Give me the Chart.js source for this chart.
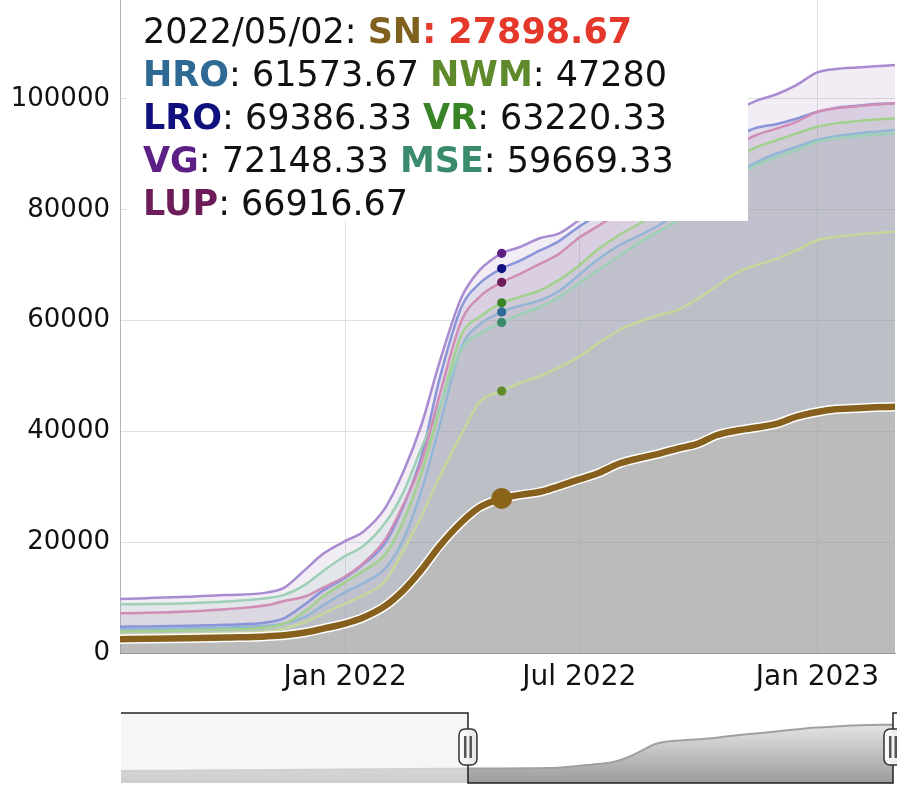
<!DOCTYPE html>
<html>
<head>
<meta charset="utf-8">
<script src="https://cdn.jsdelivr.net/npm/chart.js@4.4.0/dist/chart.umd.min.js"></script>
<style>
  html, body { margin: 0; padding: 0; background: #fff; }
  #wrap { position: relative; width: 897px; height: 789px; overflow: hidden; }
  #main { position: absolute; left: 0; top: 0; }
  #range { position: absolute; left: 0; top: 705px; }
  #legend { position: absolute; left: 127px; top: 0; width: 605px; height: 211px; padding: 10px 0 0 16px;
            background: #fff; font: 35px 'DejaVu Sans', sans-serif; line-height: 43px; color: #111; }
  #legend .it { white-space: nowrap; }
</style>
</head>
<body>
<div id="wrap">
  <canvas id="main" width="897" height="705"></canvas>
  <canvas id="range" width="897" height="84"></canvas>
  <div id="legend"></div>
</div>
<script>
// dates of the visible window
var dates = ['2021-07-11','2021-08-01','2021-09-01','2021-10-01','2021-11-01','2021-11-15','2021-12-01','2021-12-15',
             '2022-01-01','2022-01-15','2022-02-01','2022-02-15','2022-03-01','2022-03-15','2022-04-01','2022-04-15',
             '2022-05-02','2022-05-15','2022-06-01','2022-06-15','2022-07-01','2022-07-15','2022-08-01','2022-08-15',
             '2022-09-01','2022-09-15','2022-10-01','2022-10-15','2022-11-01','2022-11-15','2022-12-01','2022-12-15',
             '2023-01-01','2023-01-15','2023-02-01','2023-02-15','2023-03-02'];

var sn  = [2500, 2550, 2650, 2800, 3000, 3200, 3700, 4400, 5300, 6400, 8500, 11300, 15000, 19300, 23600, 26300,
           27898.67, 28500, 29100, 30100, 31350, 32400, 34200, 35100, 36000, 36900, 37800, 39300, 40200, 40700,
           41400, 42600, 43500, 44000, 44200, 44350, 44460];
var hro = [4300, 4350, 4450, 4600, 4900, 5300, 6500, 8600, 11000, 12600, 15300, 20500, 29300, 41000, 55300, 59300,
           61573.67, 62600, 63700, 65300, 68300, 71000, 73600, 75200, 77300, 79400, 81900, 84000, 86700, 88600,
           90200, 91300, 92600, 93300, 93800, 94100, 94400];
var nwm = [3300, 3350, 3450, 3600, 3900, 4400, 5600, 7100, 8900, 10400, 13000, 18500, 24700, 31800, 39500, 45300,
           47280, 48600, 50000, 51500, 53500, 55800, 58300, 59700, 61000, 61900, 64000, 66200, 68800, 70000,
           71200, 72600, 74500, 75100, 75500, 75800, 76050];
var lro = [4750, 4800, 4900, 5100, 5500, 6300, 8800, 11300, 13600, 16000, 19900, 26500, 35500, 49500, 62500, 66700,
           69386.33, 70700, 72700, 74300, 77000, 79000, 81400, 83400, 85700, 87600, 89700, 91500, 93500, 94800,
           95500, 96400, 97700, 98400, 98800, 99100, 99220];
var vr  = [3900, 3950, 4050, 4250, 4600, 5300, 7500, 10200, 12800, 14800, 17800, 23800, 32500, 44000, 57500, 60700,
           63220.33, 64200, 65500, 67300, 70000, 72800, 75500, 77300, 80000, 82300, 84800, 87000, 89700, 91300,
           92600, 93700, 95000, 95600, 96000, 96300, 96510];
var vg  = [9750, 9900, 10150, 10450, 10900, 11800, 15000, 17900, 20200, 21900, 26200, 32700, 41200, 52500, 64200, 69100,
           72148.33, 73200, 74900, 75700, 78200, 80600, 83400, 85800, 88600, 90900, 93400, 95600, 98100, 99700,
           100900, 102400, 104800, 105400, 105700, 105900, 106130];
var mse = [8800, 8850, 9000, 9300, 9900, 10500, 12300, 14800, 17500, 19300, 23500, 29000, 37000, 44500, 55000, 57600,
           59669.33, 61000, 62500, 64200, 66800, 69000, 71700, 73900, 76200, 78000, 80800, 83300, 86200, 88100,
           89600, 90700, 92300, 92900, 93300, 93600, 93800];
var lup = [7160, 7250, 7500, 7900, 8600, 9400, 10200, 11800, 13800, 16200, 20500, 26800, 34500, 46500, 60000, 64300,
           66916.67, 68300, 70300, 72000, 75000, 77000, 79500, 81500, 83800, 85700, 87800, 89600, 91900, 93500,
           94700, 95800, 97700, 98300, 98700, 99000, 99220];

// earlier part, only seen in the range selector (average of all series)
var earlyDates = ['2020-03-09','2020-06-01','2020-09-01','2020-12-01','2021-03-01','2021-06-01'];
var earlyAvg = [900, 1500, 2200, 3000, 3900, 4900];

var seriesNames = ['SN','HRO','NWM','LRO','VR','VG','MSE','LUP'];
var hoverDate = '2022-05-02';
var xTickDates = ['2022-01-01','2022-07-01','2023-01-01'];
var xTickLabels = ['Jan 2022','Jul 2022','Jan 2023'];
var yTicks = [0, 20000, 40000, 60000, 80000, 100000];

var darkColors = ['#80601f','#2f6a94','#5e8a2c','#10107e','#3a8428','#5b1f86','#3a8a6c','#6c1c58'];
var paleColors = ['#86601c','#94b6d6','#c6d79c','#8a94d8','#a2d18e','#a98bd2','#9dd0b6','#d08db6'];

var allSeries = [sn, hro, nwm, lro, vr, vg, mse, lup];

function toMs(s) {
    var p = s.split('-');
    return Date.UTC(+p[0], +p[1] - 1, +p[2]);
}
function hexA(hex, a) {
    var n = parseInt(hex.slice(1), 16);
    return 'rgba(' + (n >> 16) + ',' + ((n >> 8) & 255) + ',' + (n & 255) + ',' + a + ')';
}

var xs = dates.map(toMs);
var hoverIndex = dates.indexOf(hoverDate);
function pts(arr) {
    return arr.map(function (v, i) { return {x: xs[i], y: v}; });
}

// build datasets, SN first so it is drawn on top
var datasets = [];
datasets.push({
    label: 'SN', data: pts(sn), borderColor: paleColors[0], borderWidth: 6.5,
    backgroundColor: hexA(darkColors[0], 0.15), fill: 'origin',
    pointRadius: function (c) { return c.dataIndex === hoverIndex ? 10.5 : 0; },
    pointBackgroundColor: '#8a6418', pointBorderWidth: 0
});
datasets.push({
    label: 'SN border', data: pts(sn), borderColor: '#ffffff', borderWidth: 9.5,
    fill: false, pointRadius: 0
});
[7, 6, 5, 4, 3, 2, 1].forEach(function (k) {
    datasets.push({
        label: seriesNames[k], data: pts(allSeries[k]), borderColor: paleColors[k], borderWidth: 2.5,
        backgroundColor: hexA(darkColors[k], 0.15), fill: 'origin',
        pointRadius: function (c) { return c.dataIndex === hoverIndex ? 4.6 : 0; },
        pointBackgroundColor: darkColors[k], pointBorderWidth: 0
    });
});

// white wash between the fills and the lines (highlight effect)
var fadePlugin = {
    id: 'fade',
    beforeDatasetsDraw: function (chart) {
        var a = chart.chartArea, ctx = chart.ctx;
        ctx.save();
        ctx.fillStyle = 'rgba(255,255,255,0.46)';
        ctx.fillRect(a.left, a.top, a.right - a.left, a.bottom - a.top);
        ctx.restore();
    }
};

var mainChart = new Chart(document.getElementById('main'), {
    type: 'line',
    data: {datasets: datasets},
    plugins: [fadePlugin],
    options: {
        responsive: false,
        animation: false,
        events: [],
        layout: {padding: {top: 0, right: 2, left: 0, bottom: 0}},
        elements: {line: {cubicInterpolationMode: 'monotone'}, point: {hoverRadius: 0}},
        plugins: {
            legend: {display: false},
            tooltip: {enabled: false},
            filler: {drawTime: 'beforeDatasetsDraw'}
        },
        scales: {
            x: {
                type: 'linear',
                min: xs[0],
                max: xs[xs.length - 1],
                grid: {color: '#c4c4c4', drawTicks: false},
                border: {color: '#999'},
                ticks: {
                    autoSkip: false, maxRotation: 0, padding: 8, color: '#111',
                    font: {family: 'DejaVu Sans', size: 28},
                    callback: function (value, index) { return xTickLabels[index]; }
                },
                afterBuildTicks: function (scale) {
                    scale.ticks = xTickDates.map(function (d) { return {value: toMs(d)}; });
                },
                afterFit: function (scale) {
                    scale.height = 52;
                    scale.paddingLeft = 0;
                    scale.paddingRight = 0;
                }
            },
            y: {
                min: 0,
                max: 117870,
                grid: {color: '#c4c4c4', drawTicks: false},
                border: {color: '#777'},
                ticks: {
                    autoSkip: false, padding: 10, color: '#111',
                    font: {family: 'DejaVu Sans', size: 26},
                    callback: function (value) { return String(value); }
                },
                afterBuildTicks: function (scale) {
                    scale.ticks = yTicks.map(function (v) { return {value: v}; });
                },
                afterFit: function (scale) {
                    scale.width = 120;
                    scale.paddingTop = 0;
                    scale.paddingBottom = 0;
                }
            }
        }
    }
});

// legend text for the hovered date
var legendHtml = hoverDate.replace(/-/g, '/') + ': ';
var items = [];
for (var i = 0; i < seriesNames.length; i++) {
    var v = allSeries[i][hoverIndex];
    if (i === 0) {
        items.push('<span class="it"><b style="color:' + darkColors[i] + '">' + seriesNames[i] +
                   '</b><b style="color:#e4382b">: ' + v + '</b></span>');
    } else {
        items.push('<span class="it"><b style="color:' + darkColors[i] + '">' + seriesNames[i] +
                   '</b>: ' + v + '</span>');
    }
}
document.getElementById('legend').innerHTML = legendHtml + items.join(' ');

// range selector below the chart
var ovX = earlyDates.map(toMs).concat(xs);
var windowAvg = xs.map(function (x, i) {
    var s = 0;
    allSeries.forEach(function (a) { s += a[i]; });
    return s / allSeries.length;
});
var ovY = earlyAvg.concat(windowAvg);
var ovData = ovX.map(function (x, i) { return {x: x, y: ovY[i]}; });

function drawHandle(ctx, cx, cy) {
    var w = 18, h = 36, r = 6;
    var x = cx - w / 2, y = cy - h / 2;
    ctx.beginPath();
    ctx.roundRect(x, y, w, h, r);
    var g = ctx.createLinearGradient(x, 0, x + w, 0);
    g.addColorStop(0, '#ffffff');
    g.addColorStop(1, '#e4e4e4');
    ctx.fillStyle = g;
    ctx.fill();
    ctx.lineWidth = 1.5;
    ctx.strokeStyle = '#333';
    ctx.stroke();
    ctx.fillStyle = '#555';
    ctx.fillRect(cx - 4, cy - 11, 2.5, 22);
    ctx.fillRect(cx + 1.5, cy - 11, 2.5, 22);
}

var rangePlugin = {
    id: 'rangeSel',
    afterDatasetsDraw: function (chart) {
        var ctx = chart.ctx, a = chart.chartArea, sx = chart.scales.x;
        var wl = sx.getPixelForValue(xs[0]);
        var wr = sx.getPixelForValue(xs[xs.length - 1]);
        ctx.save();
        ctx.fillStyle = 'rgba(240,240,240,0.6)';
        ctx.fillRect(a.left, a.top, wl - a.left, a.bottom - a.top);
        ctx.strokeStyle = '#222';
        ctx.lineWidth = 1.5;
        ctx.beginPath();
        ctx.moveTo(a.left, a.top);
        ctx.lineTo(wl, a.top);
        ctx.lineTo(wl, a.bottom);
        ctx.lineTo(wr, a.bottom);
        ctx.lineTo(wr, a.top);
        ctx.lineTo(chart.width, a.top);
        ctx.stroke();
        drawHandle(ctx, wl, (a.top + a.bottom) / 2 - 1);
        drawHandle(ctx, wr, (a.top + a.bottom) / 2 - 1);
        ctx.restore();
    }
};

var rangeChart = new Chart(document.getElementById('range'), {
    type: 'line',
    data: {
        datasets: [{
            data: ovData,
            borderColor: '#a0a0a0',
            borderWidth: 2,
            pointRadius: 0,
            fill: 'start',
            backgroundColor: function (c) {
                var a = c.chart.chartArea;
                if (!a) { return '#bbb'; }
                var g = c.chart.ctx.createLinearGradient(0, a.top, 0, a.bottom);
                g.addColorStop(0, '#f2f2f2');
                g.addColorStop(1, '#9c9c9c');
                return g;
            }
        }]
    },
    plugins: [rangePlugin],
    options: {
        responsive: false,
        animation: false,
        events: [],
        layout: {padding: {left: 121, right: 4, top: 8, bottom: 6}},
        elements: {line: {cubicInterpolationMode: 'monotone'}},
        plugins: {legend: {display: false}, tooltip: {enabled: false}},
        scales: {
            x: {type: 'linear', display: false, min: toMs(earlyDates[0]), max: xs[xs.length - 1]},
            y: {display: false, min: -22000, max: 111000}
        }
    }
});
</script>
</body>
</html>
